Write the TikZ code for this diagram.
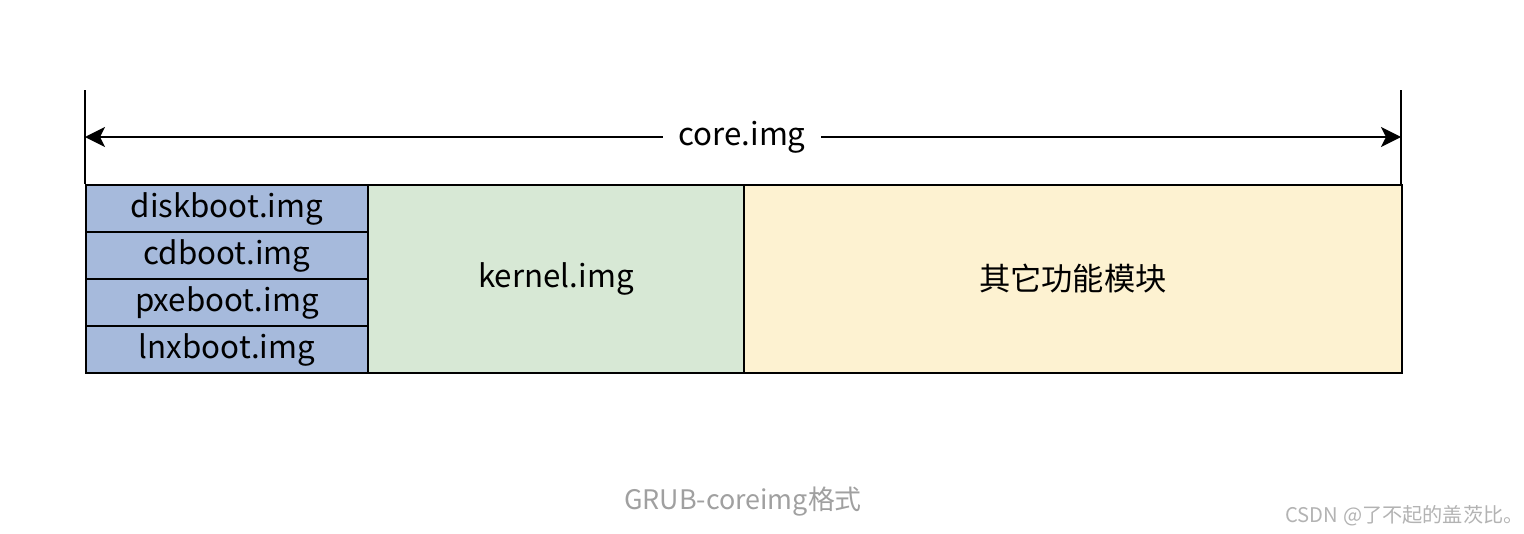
\documentclass[tikz,border=0pt]{standalone}
\usepackage{fontspec}
\setmainfont{Noto Sans CJK SC}
\usepackage{tikz}
\usetikzlibrary{arrows.meta}
\definecolor{bootblue}{RGB}{166,186,220}
\definecolor{kernelgreen}{RGB}{215,232,213}
\definecolor{moduleyellow}{RGB}{253,242,209}
\definecolor{captiongray}{RGB}{160,160,160}
\tikzset{
  cell/.style={draw, line width=1.1pt, anchor=north west, inner sep=0pt,
    font=\fontsize{17.8}{21}\selectfont},
  bootcell/.style={cell, fill=bootblue, minimum width=5.64cm, minimum height=0.94cm},
}

\begin{document}
\begin{tikzpicture}
        \useasboundingbox (0,0) rectangle (30.48,-10.68);
        % the end marks of core.img
        \coordinate (lt) at (1.7,-1.8);
        \coordinate (rt) at (28.02,-1.8);
        \coordinate (lb) at (1.7,-3.68);
        \coordinate (rb) at (28.02,-3.68);
        \draw[line width=1.1pt] (lt) -- (lb);
        \draw[line width=1.1pt] (rt) -- (rb);
        % the four boot images on the left
        \node[bootcell] (disk) at (1.7,-3.68) {diskboot.img};
        \node[bootcell] (cd) at (1.7,-4.62) {cdboot.img};
        \node[bootcell] (pxe) at (1.7,-5.56) {pxeboot.img};
        \node[bootcell] (lnx) at (1.7,-6.5) {lnxboot.img};
        % kernel in the middle
        \node[cell, fill=kernelgreen, minimum width=7.52cm, minimum height=3.76cm] (kernel) at (7.34,-3.68) {kernel.img};
        % the other modules on the right
        \node[cell, fill=moduleyellow, minimum width=13.16cm, minimum height=3.76cm] (modules) at (14.86,-3.68) {其它功能模块};
        % size arrow across the whole image
        \coordinate (al) at (1.7,-2.74);
        \coordinate (ar) at (28.02,-2.74);
        \draw[{Stealth[length=0.4cm,width=0.4cm,inset=0.1cm]}-{Stealth[length=0.4cm,width=0.4cm,inset=0.1cm]}, line width=1.1pt] (al) -- (ar);
        \node[fill=white, inner xsep=0.3cm, font=\fontsize{17.8}{21}\selectfont] (core) at (14.84,-2.74) {core.img};
        \node[text=captiongray, font=\fontsize{15.3}{18}\selectfont] (caption) at (14.86,-10.04) {GRUB-coreimg格式};
        \node[text=captiongray!80, anchor=east, font=\fontsize{11.5}{14}\selectfont] (mark) at (30.6,-10.32) {CSDN @了不起的盖茨比。};
\end{tikzpicture}
\end{document}
